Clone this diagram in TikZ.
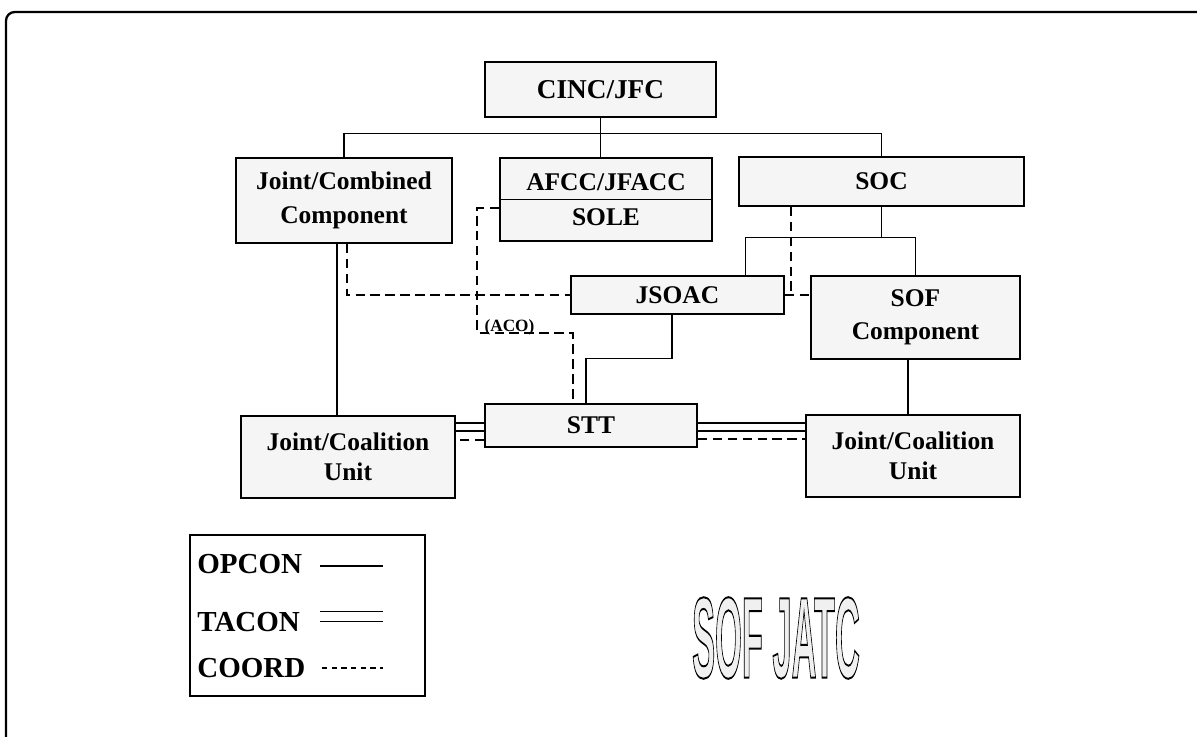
\documentclass[tikz,border=0pt]{standalone}
\usepackage{fontspec}
\setmainfont{Liberation Serif}
\newfontfamily\logofont{Liberation Sans}
\newcommand{\outlinetext}[1]{\special{pdf:literal direct 2 Tr 0.7 w 0 G}#1\special{pdf:literal direct 0 Tr}}
\usetikzlibrary{calc}

\begin{document}
\begin{tikzpicture}[x=0.02cm,y=-0.02cm,
        unitbox/.style={draw, fill=black!4, line width=0.9pt, align=center, inner sep=0pt,
                font=\fontsize{14.5}{19}\selectfont\bfseries},
        opcon/.style={line width=0.8pt},
        tacon/.style={double, double distance=3.8pt, line width=0.7pt},
        coord/.style={line width=1pt, dash pattern=on 5.5pt off 3pt},
        legtext/.style={font=\fontsize{16.5}{18}\selectfont\bfseries, inner sep=0pt}]
        \useasboundingbox (0,0) rectangle (1197,737);
        \draw[line width=1.3pt, rounded corners=5pt] (6,737) -- (6,12) -- (1197,12);

        \node[unitbox, minimum width=4.62cm, minimum height=1.1cm, font=\fontsize{15.5}{19}\selectfont\bfseries] (cinc) at (600.5,89.5) {CINC/JFC};
        \node[unitbox, minimum width=4.32cm, minimum height=1.7cm] (jcc) at (344,200.5) {Joint/Combined\\Component};
        \node[unitbox, minimum width=4.24cm, minimum height=1.66cm, font=\fontsize{14.5}{20}\selectfont\bfseries] (afcc) at (606,199.5) {AFCC/JFACC\\SOLE};
        \node[unitbox, minimum width=5.7cm, minimum height=0.98cm] (soc) at (881.5,181.5) {SOC};
        \node[unitbox, minimum width=4.26cm, minimum height=0.76cm] (jsoac) at (677.5,295) {JSOAC};
        \node[unitbox, minimum width=4.18cm, minimum height=1.66cm] (sof) at (915.5,317.5) {SOF\\Component};
        \node[unitbox, minimum width=4.24cm, minimum height=0.86cm] (stt) at (591,425.5) {STT};
        \node[unitbox, minimum width=4.28cm, minimum height=1.64cm, font=\fontsize{14.5}{17}\selectfont\bfseries] (jcu1) at (348,457) {Joint/Coalition\\Unit};
        \node[unitbox, minimum width=4.28cm, minimum height=1.64cm, font=\fontsize{14.5}{17}\selectfont\bfseries] (jcu2) at (913,456) {Joint/Coalition\\Unit};
        \draw[line width=0.9pt] (afcc.west) -- (afcc.east);

        \draw[opcon] (jcc.north) -- ++(0,-24) -| (soc.north);
        \draw[opcon] (cinc.south) -- (cinc.south |- afcc.north);
        \draw[opcon] (soc.south) -- ++(0,31) coordinate (socbus);
        \draw[opcon] ([xshift=1.36cm]jsoac.north) |- (socbus) -| (sof.north);
        \draw[opcon] ([xshift=-0.14cm]jcc.south) -- ([xshift=-0.14cm]jcc.south |- jcu1.north);
        \draw[opcon] ([xshift=-0.11cm]jsoac.south) -- ++(0,44) -| ([xshift=-0.1cm]stt.north);
        \draw[opcon] ([xshift=-0.15cm]sof.south) -- ([xshift=-0.15cm]sof.south |- jcu2.north);

        \draw[tacon] ([yshift=-0.03cm]stt.west) -- ([yshift=-0.03cm]stt.west -| jcu1.east);
        \draw[coord] ([yshift=-0.29cm]stt.west) -- ([yshift=-0.29cm]stt.west -| jcu1.east);
        \draw[tacon] ([yshift=-0.03cm]stt.east) -- ([yshift=-0.03cm]stt.east -| jcu2.west);
        \draw[coord] ([yshift=-0.27cm]stt.east) -- ([yshift=-0.27cm]stt.east -| jcu2.west);

        \draw[coord] ([xshift=0.06cm]jcc.south) |- (jsoac.west);
        \draw[coord] ([yshift=-0.17cm]afcc.west) -- ++(-22,0) -- ++(0,125) coordinate (acobend) -| ([xshift=-0.36cm]stt.north);
        \node[font=\fontsize{9.8}{11}\selectfont\bfseries, inner sep=0pt, anchor=base west] (aco) at ($(acobend)+(7,-2)$) {(ACO)};
        \draw[coord] ([xshift=-1.81cm]soc.south) -- ([xshift=-1.81cm]soc.south |- jsoac.east);
        \draw[coord] (jsoac.east) -- (jsoac.east -| sof.west);

        \node[draw, line width=0.8pt, minimum width=4.7cm, minimum height=3.22cm] (legend) at (307.5,615.5) {};
        \foreach \name/\y in {OPCON/573,TACON/631,COORD/677} {
                \node[legtext, anchor=base west] (leg\name) at (197,\y) {\name};
            }
        \draw[opcon] (320,566) -- ++(63,0);
        \draw[tacon, double distance=4.6pt] (320,616.5) -- ++(63,0);
        \draw[line width=0.8pt, dash pattern=on 3pt off 2.5pt] (322,668) -- ++(61,0);

        \node[inner sep=0pt] (logo) at (776,638) {\scalebox{0.49}[1.64]{\logofont\bfseries\fontsize{40}{40}\selectfont
                \textcolor{black!6}{\outlinetext{SOF JATC}}}};
    \end{tikzpicture}
\end{document}
